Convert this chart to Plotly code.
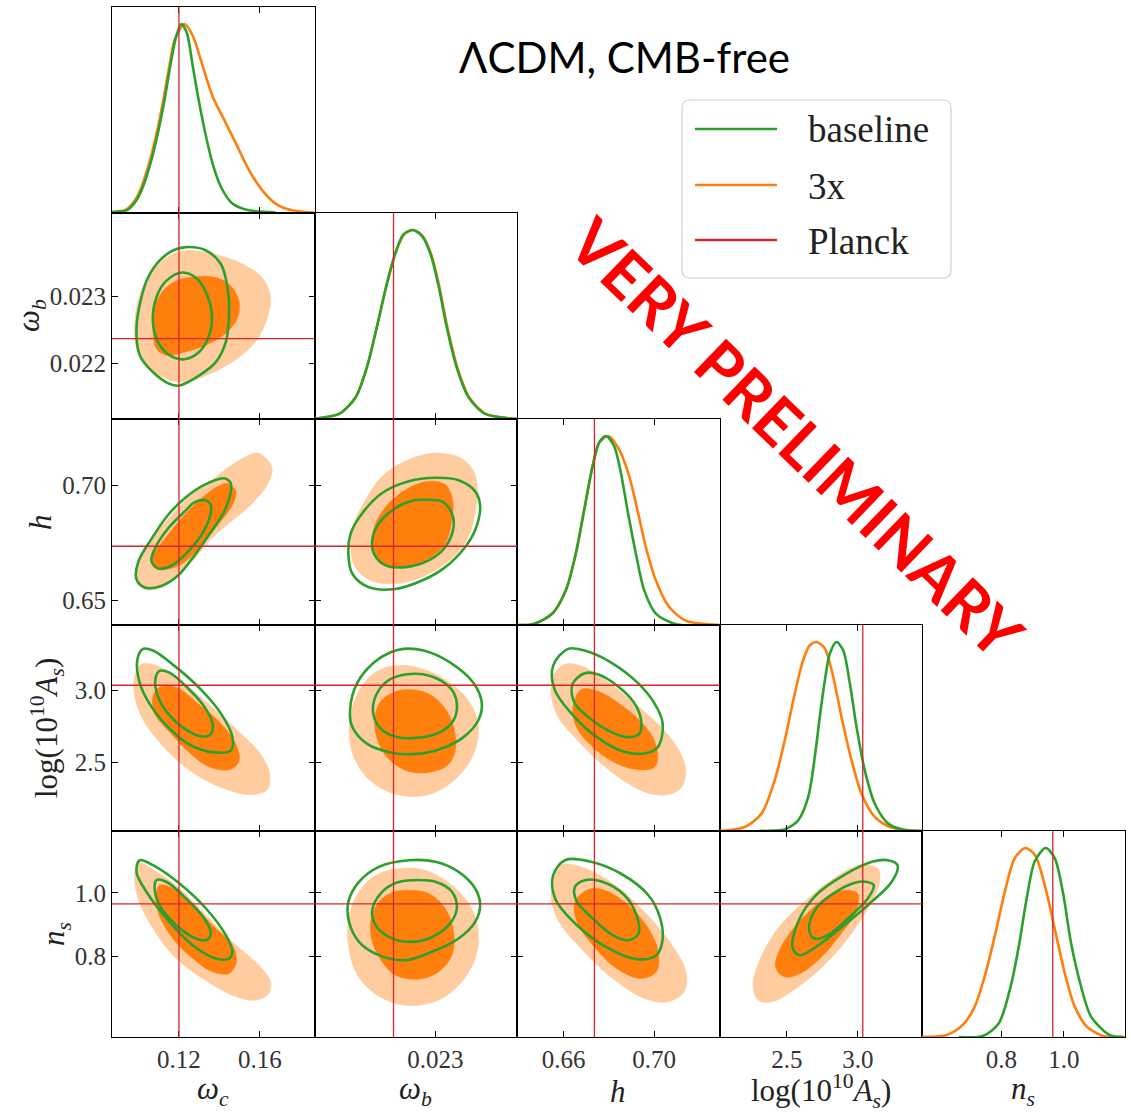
import plotly.graph_objects as go

W, H = 1131, 1117

# ---------------- data ----------------
PARAM_LABELS = ["<i>ω</i><sub><i>c</i></sub>", "<i>ω</i><sub><i>b</i></sub>", "<i>h</i>",
                "log(10<sup>10</sup><i>A</i><sub><i>s</i></sub>)", "<i>n</i><sub><i>s</i></sub>"]
PLANCK = [0.1200, 0.02237, 0.6736, 3.035, 0.9649]
RANGES = [[0.0869, 0.187], [0.02118, 0.02423], [0.6393, 0.7290], [2.026, 3.452], [0.545, 1.195]]
DIAG_RANGE = [0, 1.09]
XTICKS = [[0.12, 0.16], [0.023], [0.66, 0.70], [2.5, 3.0], [0.8, 1.0]]
XTICKTEXT = [["0.12", "0.16"], ["0.023"], ["0.66", "0.70"], ["2.5", "3.0"], ["0.8", "1.0"]]
YTICKS = [[], [0.022, 0.023], [0.65, 0.70], [2.5, 3.0], [0.8, 1.0]]
YTICKTEXT = [[], ["0.022", "0.023"], ["0.65", "0.70"], ["2.5", "3.0"], ["0.8", "1.0"]]
SERIES = ["baseline", "3x", "Planck"]
TITLE = "ΛCDM, CMB-free"
WATERMARK = "VERY PRELIMINARY"

# 1D marginals (normalised to peak 1)
wc_base_x = [0.0869, 0.0875, 0.0941, 0.0990, 0.1022, 0.1064, 0.1096, 0.1129, 0.1157, 0.1183, 0.1211, 0.1238, 0.1268, 0.1297, 0.1330, 0.1366, 0.1407, 0.1464, 0.1546, 0.1677]
wc_base_y = [0.003, 0.005, 0.014, 0.068, 0.139, 0.281, 0.423, 0.600, 0.778, 0.920, 1.000, 0.956, 0.778, 0.600, 0.423, 0.263, 0.139, 0.050, 0.014, 0.003]
wc_3x_x = [0.0869, 0.0872, 0.0936, 0.0985, 0.1017, 0.1059, 0.1091, 0.1124, 0.1153, 0.1180, 0.1227, 0.1268, 0.1317, 0.1366, 0.1423, 0.1481, 0.1546, 0.1611, 0.1677, 0.1759, 0.1857, 0.1870]
wc_3x_y = [0.004, 0.005, 0.016, 0.072, 0.145, 0.288, 0.430, 0.605, 0.780, 0.920, 1.000, 0.938, 0.778, 0.618, 0.494, 0.370, 0.227, 0.121, 0.050, 0.014, 0.003, 0.002]

wb_base_x = [0.02118, 0.02120, 0.02155, 0.02180, 0.02197, 0.02212, 0.02226, 0.02240, 0.02252, 0.02266, 0.02280, 0.02293, 0.02305, 0.02317, 0.02332, 0.02350, 0.02375, 0.02415, 0.02423]
wb_base_y = [0.0, 0.002, 0.027, 0.115, 0.275, 0.488, 0.701, 0.879, 0.977, 1.0, 0.968, 0.870, 0.701, 0.488, 0.275, 0.115, 0.027, 0.002, 0.0]
wb_3x_x = [0.02118, 0.02120, 0.02155, 0.02180, 0.02197, 0.02212, 0.02226, 0.02240, 0.02253, 0.02267, 0.02281, 0.02294, 0.02306, 0.02318, 0.02333, 0.02351, 0.02376, 0.02416, 0.02423]
wb_3x_y = [0.0, 0.002, 0.027, 0.115, 0.275, 0.488, 0.701, 0.879, 0.977, 1.0, 0.968, 0.870, 0.701, 0.488, 0.275, 0.115, 0.027, 0.002, 0.0]

h_base_x = [0.6393, 0.6463, 0.6551, 0.6610, 0.6654, 0.6691, 0.6728, 0.6757, 0.6787, 0.6823, 0.6853, 0.6882, 0.6919, 0.6956, 0.7007, 0.7096, 0.7290]
h_base_y = [0.0, 0.004, 0.062, 0.186, 0.381, 0.611, 0.841, 0.965, 1.0, 0.947, 0.806, 0.611, 0.381, 0.186, 0.062, 0.004, 0.0]
h_3x_x = [0.6393, 0.6463, 0.6551, 0.6610, 0.6654, 0.6691, 0.6728, 0.6757, 0.6798, 0.6845, 0.6890, 0.6926, 0.6963, 0.7007, 0.7066, 0.7140, 0.7257, 0.7290]
h_3x_y = [0.0, 0.004, 0.062, 0.186, 0.381, 0.611, 0.841, 0.965, 1.0, 0.929, 0.788, 0.611, 0.416, 0.239, 0.097, 0.023, 0.002, 0.0]

as_base_x = [2.299, 2.400, 2.486, 2.580, 2.651, 2.697, 2.732, 2.768, 2.803, 2.850, 2.897, 2.944, 2.991, 3.049, 3.120, 3.214, 3.331, 3.452]
as_base_y = [0.0, 0.002, 0.010, 0.056, 0.180, 0.392, 0.603, 0.798, 0.939, 1.0, 0.956, 0.780, 0.550, 0.321, 0.144, 0.039, 0.005, 0.0]
as_3x_x = [2.026, 2.063, 2.204, 2.322, 2.415, 2.486, 2.556, 2.615, 2.662, 2.709, 2.768, 2.827, 2.885, 2.956, 3.026, 3.120, 3.237, 3.425, 3.452]
as_3x_y = [0.0, 0.002, 0.021, 0.092, 0.269, 0.481, 0.727, 0.904, 0.983, 1.0, 0.965, 0.815, 0.603, 0.374, 0.197, 0.074, 0.018, 0.001, 0.0]

ns_base_x = [0.663, 0.740, 0.791, 0.830, 0.856, 0.881, 0.907, 0.942, 0.971, 0.997, 1.023, 1.055, 1.087, 1.138, 1.165, 1.195]
ns_base_y = [0.0, 0.005, 0.071, 0.270, 0.483, 0.733, 0.930, 1.0, 0.947, 0.768, 0.501, 0.270, 0.109, 0.020, 0.002, 0.0]
ns_3x_x = [0.545, 0.560, 0.6245, 0.676, 0.7145, 0.7465, 0.779, 0.8107, 0.843, 0.877, 0.907, 0.939, 0.971, 1.003, 1.035, 1.074, 1.125, 1.160, 1.195]
ns_3x_y = [0.0, 0.001, 0.011, 0.064, 0.162, 0.323, 0.537, 0.768, 0.947, 1.0, 0.964, 0.804, 0.572, 0.340, 0.162, 0.055, 0.005, 0.001, 0.0]

# 2D contours: o95/o68 = 3x filled (95%, 68%), g95/g68 = baseline lines
wc_wb_o95_x = [0.1235, 0.1366, 0.1497, 0.1611, 0.1653, 0.1636, 0.1579, 0.1464, 0.1334, 0.1235, 0.1137, 0.1039, 0.0990, 0.0982, 0.1006, 0.1071, 0.1153]
wc_wb_o95_y = [0.023675, 0.023625, 0.0235, 0.023275, 0.022975, 0.022675, 0.022325, 0.022025, 0.021825, 0.021725, 0.021775, 0.021975, 0.022225, 0.022625, 0.023025, 0.023375, 0.0236]
wc_wb_o68_x = [0.1252, 0.1366, 0.1448, 0.1497, 0.1489, 0.1432, 0.1334, 0.1235, 0.1137, 0.1088, 0.1071, 0.1080, 0.1120, 0.1186]
wc_wb_o68_y = [0.023275, 0.023285, 0.023175, 0.022925, 0.022675, 0.02245, 0.022275, 0.022175, 0.022125, 0.022225, 0.022525, 0.022825, 0.023075, 0.023225]
wc_wb_g95_x = [0.1235, 0.1334, 0.1407, 0.1440, 0.1448, 0.1432, 0.1383, 0.1301, 0.1202, 0.1153, 0.1071, 0.1006, 0.0990, 0.1014, 0.1047, 0.1104, 0.1170]
wc_wb_g95_y = [0.023725, 0.023675, 0.023475, 0.023125, 0.022775, 0.022325, 0.022025, 0.021825, 0.021675, 0.0217, 0.021875, 0.022125, 0.022525, 0.022975, 0.023275, 0.023525, 0.023675]
wc_wb_g68_x = [0.1219, 0.1292, 0.1341, 0.1363, 0.1350, 0.1301, 0.1227, 0.1153, 0.1096, 0.1071, 0.1088, 0.1137]
wc_wb_g68_y = [0.02335, 0.02325, 0.023, 0.022725, 0.022425, 0.022175, 0.022065, 0.022125, 0.022325, 0.022625, 0.022975, 0.023225]

wc_h_o95_x = [0.1587, 0.1644, 0.1661, 0.1636, 0.1554, 0.1456, 0.1358, 0.1276, 0.1194, 0.1113, 0.1031, 0.0990, 0.0998, 0.1064, 0.1162, 0.1260, 0.1374, 0.1489]
wc_h_o95_y = [0.7142, 0.7106, 0.7069, 0.7003, 0.6915, 0.6842, 0.6768, 0.6680, 0.6607, 0.6556, 0.6548, 0.6592, 0.6666, 0.6768, 0.6871, 0.6959, 0.7032, 0.7106]
wc_h_o68_x = [0.1440, 0.1481, 0.1464, 0.1391, 0.1309, 0.1227, 0.1145, 0.1080, 0.1071, 0.1129, 0.1211, 0.1309, 0.1391]
wc_h_o68_y = [0.7010, 0.6974, 0.6915, 0.6827, 0.6739, 0.6666, 0.6636, 0.6644, 0.6695, 0.6768, 0.6856, 0.6944, 0.6996]
wc_h_g95_x = [0.1423, 0.1456, 0.1453, 0.1423, 0.1358, 0.1276, 0.1194, 0.1113, 0.1031, 0.0990, 0.0998, 0.1064, 0.1145, 0.1227, 0.1325]
wc_h_g95_y = [0.7032, 0.7010, 0.6959, 0.6886, 0.6798, 0.6695, 0.6607, 0.6563, 0.6556, 0.6592, 0.6666, 0.6768, 0.6871, 0.6944, 0.7003]
wc_h_g68_x = [0.1325, 0.1358, 0.1350, 0.1309, 0.1243, 0.1162, 0.1096, 0.1064, 0.1080, 0.1145, 0.1227, 0.1276]
wc_h_g68_y = [0.6937, 0.6915, 0.6856, 0.6783, 0.6710, 0.6651, 0.6639, 0.6673, 0.6724, 0.6812, 0.6886, 0.6927]

wb_h_o95_x = [0.023099, 0.023399, 0.023575, 0.023635, 0.0236, 0.0235, 0.0233, 0.023, 0.02265, 0.02235, 0.022025, 0.02179, 0.021725, 0.021775, 0.02195, 0.022199, 0.02255, 0.02285]
wb_h_o95_y = [0.71407, 0.71174, 0.70629, 0.69824, 0.68799, 0.6777, 0.66965, 0.66306, 0.65866, 0.65721, 0.65866, 0.66451, 0.6733, 0.6836, 0.69384, 0.70409, 0.71069, 0.71363]
wb_h_o68_x = [0.0229, 0.02315, 0.02326, 0.023249, 0.02315, 0.0229, 0.02255, 0.022274, 0.02209, 0.022049, 0.022124, 0.022325, 0.0226]
wb_h_o68_y = [0.7019, 0.70044, 0.69384, 0.68505, 0.6748, 0.6682, 0.66451, 0.66526, 0.6704, 0.6777, 0.68505, 0.6931, 0.69899]
wb_h_g95_x = [0.023, 0.02335, 0.0236, 0.023675, 0.0236, 0.02345, 0.02315, 0.0228, 0.0224, 0.022, 0.02175, 0.02169, 0.021725, 0.0219, 0.022199, 0.0226]
wb_h_g95_y = [0.70339, 0.70233, 0.69749, 0.6909, 0.68065, 0.6733, 0.66451, 0.65866, 0.655, 0.65571, 0.6616, 0.6704, 0.6792, 0.68799, 0.69679, 0.70189]
wb_h_g68_x = [0.02285, 0.023099, 0.023249, 0.023275, 0.02315, 0.0229, 0.02255, 0.02225, 0.022075, 0.022049, 0.02215, 0.0224, 0.02265]
wb_h_g68_y = [0.69384, 0.6931, 0.68799, 0.6821, 0.6733, 0.66745, 0.66451, 0.66526, 0.6704, 0.67625, 0.6836, 0.69019, 0.6934]

wc_as_o95_x = [0.10144, 0.10959, 0.12108, 0.13414, 0.14887, 0.16036, 0.16493, 0.1636, 0.15545, 0.14396, 0.1309, 0.11941, 0.10959, 0.10144, 0.09781, 0.09815]
wc_as_o95_y = [3.181, 3.169, 3.063, 2.911, 2.723, 2.558, 2.418, 2.312, 2.277, 2.312, 2.394, 2.512, 2.653, 2.817, 2.981, 3.099]
wc_as_o68_x = [0.11126, 0.11941, 0.12923, 0.14072, 0.14809, 0.1497, 0.14563, 0.13581, 0.12599, 0.11617, 0.10797, 0.10714]
wc_as_o68_y = [3.028, 3.016, 2.911, 2.770, 2.629, 2.512, 2.453, 2.465, 2.558, 2.699, 2.840, 2.958]
wc_as_g95_x = [0.10223, 0.10714, 0.11779, 0.1309, 0.14072, 0.14642, 0.14563, 0.13743, 0.12599, 0.11617, 0.10635, 0.1006, 0.09948]
wc_as_g95_y = [3.287, 3.275, 3.169, 3.005, 2.840, 2.676, 2.582, 2.570, 2.618, 2.723, 2.887, 3.051, 3.216]
wc_as_g68_x = [0.11043, 0.11534, 0.12432, 0.13252, 0.1366, 0.13581, 0.1309, 0.1227, 0.1145, 0.10959, 0.10831]
wc_as_g68_y = [3.134, 3.122, 3.016, 2.887, 2.770, 2.699, 2.681, 2.735, 2.840, 2.958, 3.075]

wb_as_o95_x = [0.022475, 0.022825, 0.023225, 0.023525, 0.02365, 0.023575, 0.023324, 0.022975, 0.022625, 0.022274, 0.021974, 0.021775, 0.0217, 0.02175, 0.021925, 0.022175]
wb_as_o95_y = [3.174, 3.146, 3.051, 2.911, 2.746, 2.558, 2.394, 2.289, 2.265, 2.301, 2.394, 2.535, 2.699, 2.887, 3.051, 3.146]
wb_as_o68_x = [0.022574, 0.022874, 0.023125, 0.023275, 0.0233, 0.023174, 0.022874, 0.022574, 0.022325, 0.02215, 0.022085, 0.022175, 0.022375]
wb_as_o68_y = [3.005, 2.981, 2.887, 2.746, 2.582, 2.477, 2.430, 2.442, 2.512, 2.629, 2.794, 2.923, 2.986]
wb_as_g95_x = [0.022525, 0.022825, 0.023225, 0.023575, 0.0237, 0.02365, 0.023425, 0.023075, 0.022675, 0.022325, 0.021974, 0.02175, 0.021715, 0.021824, 0.022075, 0.022325]
wb_as_g95_y = [3.287, 3.275, 3.192, 3.051, 2.911, 2.794, 2.676, 2.594, 2.558, 2.570, 2.629, 2.746, 2.864, 3.051, 3.192, 3.263]
wb_as_g68_x = [0.022574, 0.022925, 0.023225, 0.023324, 0.023275, 0.023075, 0.022724, 0.022424, 0.022175, 0.022064, 0.0221, 0.022274]
wb_as_g68_y = [3.111, 3.099, 3.016, 2.911, 2.794, 2.711, 2.671, 2.676, 2.735, 2.840, 2.958, 3.063]

h_as_o95_x = [0.6604, 0.66777, 0.67806, 0.6913, 0.70309, 0.71117, 0.71413, 0.71192, 0.70605, 0.69722, 0.68689, 0.67514, 0.66481, 0.65748, 0.65453, 0.65528]
h_as_o95_y = [3.181, 3.169, 3.075, 2.911, 2.746, 2.582, 2.442, 2.324, 2.277, 2.289, 2.371, 2.512, 2.676, 2.817, 2.958, 3.099]
h_as_o68_x = [0.66777, 0.67514, 0.68543, 0.69426, 0.70013, 0.70163, 0.70013, 0.6913, 0.68102, 0.67219, 0.66556, 0.66411]
h_as_o68_y = [3.005, 2.993, 2.899, 2.782, 2.653, 2.535, 2.465, 2.453, 2.512, 2.618, 2.746, 2.887]
h_as_g95_x = [0.6619, 0.66923, 0.68102, 0.6928, 0.70013, 0.70384, 0.70163, 0.69572, 0.68543, 0.67364, 0.66336, 0.65598, 0.65528]
h_as_g95_y = [3.287, 3.275, 3.192, 3.051, 2.911, 2.770, 2.606, 2.563, 2.582, 2.688, 2.840, 3.005, 3.169]
h_as_g68_x = [0.66923, 0.67514, 0.68397, 0.6913, 0.69426, 0.69351, 0.68839, 0.67956, 0.67073, 0.66481, 0.6638]
h_as_g68_y = [3.118, 3.111, 3.028, 2.911, 2.794, 2.699, 2.676, 2.723, 2.817, 2.911, 3.040]

wc_ns_o95_x = [0.1006, 0.1088, 0.12025, 0.13336, 0.14642, 0.15953, 0.16527, 0.16444, 0.1579, 0.14642, 0.13169, 0.11863, 0.10714, 0.09977, 0.09815]
wc_ns_o95_y = [1.0924, 1.0662, 1.0136, 0.9293, 0.8454, 0.7716, 0.7192, 0.6823, 0.6612, 0.677, 0.7297, 0.7927, 0.8874, 0.982, 1.0555]
wc_ns_o68_x = [0.11043, 0.11696, 0.12678, 0.13827, 0.14642, 0.14838, 0.1448, 0.1366, 0.12678, 0.11696, 0.10959, 0.1088]
wc_ns_o68_y = [1.024, 1.0136, 0.9609, 0.8874, 0.8347, 0.7823, 0.7454, 0.7508, 0.7927, 0.8558, 0.9401, 0.9978]
wc_ns_g95_x = [0.1006, 0.10714, 0.12025, 0.13336, 0.14317, 0.14642, 0.1448, 0.13827, 0.12678, 0.11534, 0.1039, 0.09899]
wc_ns_g95_y = [1.1028, 1.0871, 1.0293, 0.9505, 0.8662, 0.8139, 0.7927, 0.7927, 0.8347, 0.9085, 1.0032, 1.0662]
wc_ns_g68_x = [0.1088, 0.11371, 0.12354, 0.13252, 0.13581, 0.13336, 0.12845, 0.11863, 0.11043, 0.10797]
wc_ns_g68_y = [1.0397, 1.0347, 0.982, 0.9189, 0.8716, 0.8505, 0.8558, 0.8978, 0.9609, 1.0136]

wb_ns_o95_x = [0.02245, 0.02285, 0.023249, 0.023549, 0.02365, 0.0236, 0.023399, 0.023099, 0.02275, 0.0224, 0.022049, 0.0218, 0.02169, 0.0217, 0.02185, 0.0221]
wb_ns_o95_y = [1.0767, 1.0713, 1.024, 0.9505, 0.8662, 0.7927, 0.7192, 0.6666, 0.6454, 0.6508, 0.6877, 0.7508, 0.8347, 0.9293, 1.0032, 1.0555]
wb_ns_o68_x = [0.02255, 0.0229, 0.02315, 0.023275, 0.023249, 0.02305, 0.02275, 0.0224, 0.022199, 0.022049, 0.022025, 0.02215, 0.02235]
wb_ns_o68_y = [1.0082, 0.9978, 0.9505, 0.877, 0.8032, 0.7508, 0.7275, 0.74, 0.7823, 0.8454, 0.9085, 0.9716, 1.0009]
wb_ns_g95_x = [0.0226, 0.023, 0.02335, 0.0236, 0.023675, 0.0236, 0.02335, 0.02295, 0.02255, 0.02215, 0.02185, 0.0217, 0.02169, 0.02185, 0.02215]
wb_ns_g95_y = [1.1028, 1.0978, 1.0662, 1.0136, 0.9609, 0.9085, 0.8558, 0.8139, 0.7874, 0.8032, 0.8454, 0.9085, 0.9716, 1.0347, 1.082]
wb_ns_g68_x = [0.02265, 0.023, 0.023249, 0.023324, 0.0232, 0.0229, 0.0226, 0.0223, 0.0221, 0.022049, 0.022199, 0.022424]
wb_ns_g68_y = [1.0397, 1.0347, 1.0032, 0.9505, 0.8978, 0.8558, 0.8454, 0.8612, 0.8978, 0.9451, 1.0032, 1.0325]

h_ns_o95_x = [0.65885, 0.66764, 0.68168, 0.69576, 0.70804, 0.71417, 0.71333, 0.70627, 0.69576, 0.68168, 0.66764, 0.65709, 0.65444]
h_ns_o95_y = [1.0871, 1.082, 1.0293, 0.9401, 0.8347, 0.7508, 0.6877, 0.6562, 0.6666, 0.7297, 0.8243, 0.9189, 1.0032]
h_ns_o68_x = [0.67113, 0.67815, 0.6887, 0.69749, 0.7019, 0.70102, 0.694, 0.68344, 0.67289, 0.66587, 0.66499]
h_ns_o68_y = [1.0114, 1.0082, 0.9609, 0.8874, 0.8139, 0.7508, 0.7297, 0.7612, 0.8347, 0.9085, 0.9716]
h_ns_g95_x = [0.66057, 0.67113, 0.68521, 0.69749, 0.70278, 0.70366, 0.70102, 0.69223, 0.67991, 0.66587, 0.6562, 0.65532]
h_ns_g95_y = [1.1028, 1.0997, 1.0609, 0.9924, 0.9189, 0.8454, 0.8032, 0.7906, 0.8243, 0.8978, 0.982, 1.0555]
h_ns_g68_x = [0.66936, 0.67642, 0.68693, 0.69223, 0.69311, 0.6887, 0.68168, 0.67289, 0.66552, 0.66499]
h_ns_g68_y = [1.0397, 1.0366, 0.9924, 0.9293, 0.8716, 0.8505, 0.8662, 0.9189, 0.9767, 1.0189]

as_ns_o95_x = [3.014, 3.140, 3.154, 3.070, 2.930, 2.762, 2.565, 2.397, 2.299, 2.263, 2.313, 2.454, 2.650, 2.846]
as_ns_o95_y = [1.0871, 1.0767, 1.0347, 0.9505, 0.8558, 0.7716, 0.6981, 0.6562, 0.6612, 0.7085, 0.7927, 0.8978, 0.982, 1.0505]
as_ns_o68_x = [2.902, 3.0, 2.986, 2.874, 2.734, 2.594, 2.482, 2.420, 2.454, 2.565, 2.706, 2.818]
as_ns_o68_y = [1.0082, 0.9978, 0.9401, 0.8662, 0.7927, 0.7454, 0.735, 0.7665, 0.8243, 0.8978, 0.9609, 0.9978]
as_ns_g95_x = [3.211, 3.280, 3.239, 3.070, 2.874, 2.706, 2.594, 2.543, 2.580, 2.706, 2.902, 3.099]
as_ns_g95_y = [1.1028, 1.0871, 1.0347, 0.9609, 0.8874, 0.8297, 0.8032, 0.8243, 0.9085, 0.9924, 1.0555, 1.0978]
as_ns_g68_x = [3.056, 3.112, 3.070, 2.930, 2.790, 2.692, 2.656, 2.706, 2.846, 2.986]
as_ns_g68_y = [1.0347, 1.024, 0.982, 0.9189, 0.8662, 0.8558, 0.8874, 0.9505, 1.0032, 1.0325]

# --------------- assembling ---------------
MARGINALS = {
    0: ((wc_base_x, wc_base_y), (wc_3x_x, wc_3x_y)),
    1: ((wb_base_x, wb_base_y), (wb_3x_x, wb_3x_y)),
    2: ((h_base_x, h_base_y), (h_3x_x, h_3x_y)),
    3: ((as_base_x, as_base_y), (as_3x_x, as_3x_y)),
    4: ((ns_base_x, ns_base_y), (ns_3x_x, ns_3x_y)),
}
CONTOURS = {
    (1, 0): (wc_wb_o95_x, wc_wb_o95_y, wc_wb_o68_x, wc_wb_o68_y, wc_wb_g95_x, wc_wb_g95_y, wc_wb_g68_x, wc_wb_g68_y),
    (2, 0): (wc_h_o95_x, wc_h_o95_y, wc_h_o68_x, wc_h_o68_y, wc_h_g95_x, wc_h_g95_y, wc_h_g68_x, wc_h_g68_y),
    (2, 1): (wb_h_o95_x, wb_h_o95_y, wb_h_o68_x, wb_h_o68_y, wb_h_g95_x, wb_h_g95_y, wb_h_g68_x, wb_h_g68_y),
    (3, 0): (wc_as_o95_x, wc_as_o95_y, wc_as_o68_x, wc_as_o68_y, wc_as_g95_x, wc_as_g95_y, wc_as_g68_x, wc_as_g68_y),
    (3, 1): (wb_as_o95_x, wb_as_o95_y, wb_as_o68_x, wb_as_o68_y, wb_as_g95_x, wb_as_g95_y, wb_as_g68_x, wb_as_g68_y),
    (3, 2): (h_as_o95_x, h_as_o95_y, h_as_o68_x, h_as_o68_y, h_as_g95_x, h_as_g95_y, h_as_g68_x, h_as_g68_y),
    (4, 0): (wc_ns_o95_x, wc_ns_o95_y, wc_ns_o68_x, wc_ns_o68_y, wc_ns_g95_x, wc_ns_g95_y, wc_ns_g68_x, wc_ns_g68_y),
    (4, 1): (wb_ns_o95_x, wb_ns_o95_y, wb_ns_o68_x, wb_ns_o68_y, wb_ns_g95_x, wb_ns_g95_y, wb_ns_g68_x, wb_ns_g68_y),
    (4, 2): (h_ns_o95_x, h_ns_o95_y, h_ns_o68_x, h_ns_o68_y, h_ns_g95_x, h_ns_g95_y, h_ns_g68_x, h_ns_g68_y),
    (4, 3): (as_ns_o95_x, as_ns_o95_y, as_ns_o68_x, as_ns_o68_y, as_ns_g95_x, as_ns_g95_y, as_ns_g68_x, as_ns_g68_y),
}

GREEN = "#2ca02c"
ORANGE = "#ff7f0e"
LIGHT_ORANGE = "#ffcc9f"
RED = "#d62728"
SERIF = "Liberation Serif"
TICKFONT = dict(family=SERIF, size=25, color="#333333")
LABELFONT = dict(family=SERIF, size=31, color="#222222")

LEFT, TOP = 112.0, 7.0
PW, PH = 202.5, 206.0


def px(X):
    return X / W


def py(Y):
    return 1 - Y / H


def closed(a):
    return list(a) + [a[0]]


fig = go.Figure()
layout = dict(width=W, height=H, margin=dict(l=0, r=0, t=0, b=0),
              paper_bgcolor="white", plot_bgcolor="white", showlegend=False)
shapes = []
annotations = []

k = 0
for i in range(5):
    for j in range(i + 1):
        k += 1
        xs = "" if k == 1 else str(k)
        xname, yname = "x" + xs, "y" + xs
        X0, X1 = LEFT + PW * j, LEFT + PW * (j + 1)
        Y0, Y1 = TOP + PH * i, TOP + PH * (i + 1)
        common = dict(showline=True, linecolor="black", linewidth=1, mirror="ticks",
                      ticks="inside", ticklen=6, tickwidth=1, tickcolor="black",
                      showgrid=False, zeroline=False, tickfont=TICKFONT)
        layout["xaxis" + xs] = dict(domain=[px(X0), px(X1)], anchor=yname, range=RANGES[j],
                                    tickmode="array", tickvals=XTICKS[j], ticktext=XTICKTEXT[j],
                                    showticklabels=(i == 4), **common)
        if i == j:
            layout["yaxis" + xs] = dict(domain=[py(Y1), py(Y0)], anchor=xname, range=DIAG_RANGE,
                                        tickmode="array", tickvals=[], showticklabels=False, **common)
            (bx, by), (ox, oy) = MARGINALS[i]
            fig.add_trace(go.Scatter(x=ox, y=oy, mode="lines", line=dict(color=ORANGE, width=2.6, shape="spline", smoothing=0.8),
                                     xaxis=xname, yaxis=yname, hoverinfo="skip"))
            fig.add_trace(go.Scatter(x=bx, y=by, mode="lines", line=dict(color=GREEN, width=2.6, shape="spline", smoothing=0.8),
                                     xaxis=xname, yaxis=yname, hoverinfo="skip"))
            shapes.append(dict(type="line", xref=xname, yref=yname + " domain", x0=PLANCK[j], x1=PLANCK[j],
                               y0=0, y1=1, line=dict(color=RED, width=1.3)))
        else:
            layout["yaxis" + xs] = dict(domain=[py(Y1), py(Y0)], anchor=xname, range=RANGES[i],
                                        tickmode="array", tickvals=YTICKS[i], ticktext=YTICKTEXT[i],
                                        showticklabels=(j == 0), **common)
            o95x, o95y, o68x, o68y, g95x, g95y, g68x, g68y = CONTOURS[(i, j)]
            fig.add_trace(go.Scatter(x=closed(o95x), y=closed(o95y), mode="lines", fill="toself",
                                     fillcolor=LIGHT_ORANGE, line=dict(color=LIGHT_ORANGE, width=0.5, shape="spline"),
                                     xaxis=xname, yaxis=yname, hoverinfo="skip"))
            fig.add_trace(go.Scatter(x=closed(o68x), y=closed(o68y), mode="lines", fill="toself",
                                     fillcolor=ORANGE, line=dict(color=ORANGE, width=0.5, shape="spline"),
                                     xaxis=xname, yaxis=yname, hoverinfo="skip"))
            fig.add_trace(go.Scatter(x=closed(g95x), y=closed(g95y), mode="lines",
                                     line=dict(color=GREEN, width=2.6, shape="spline"),
                                     xaxis=xname, yaxis=yname, hoverinfo="skip"))
            fig.add_trace(go.Scatter(x=closed(g68x), y=closed(g68y), mode="lines",
                                     line=dict(color=GREEN, width=2.6, shape="spline"),
                                     xaxis=xname, yaxis=yname, hoverinfo="skip"))
            shapes.append(dict(type="line", xref=xname, yref=yname + " domain", x0=PLANCK[j], x1=PLANCK[j],
                               y0=0, y1=1, line=dict(color=RED, width=1.3)))
            shapes.append(dict(type="line", xref=xname + " domain", yref=yname, x0=0, x1=1,
                               y0=PLANCK[i], y1=PLANCK[i], line=dict(color=RED, width=1.3)))

# axis titles
for j in range(5):
    annotations.append(dict(text=PARAM_LABELS[j], xref="paper", yref="paper",
                            x=px(LEFT + PW * (j + 0.5)), y=py(1091), xanchor="center", yanchor="middle",
                            showarrow=False, font=LABELFONT))
YLAB_X = [0, 31, 40, 47, 56]
for i in range(1, 5):
    annotations.append(dict(text=PARAM_LABELS[i], xref="paper", yref="paper",
                            x=px(YLAB_X[i]), y=py(TOP + PH * (i + 0.5)), xanchor="center", yanchor="middle",
                            textangle=-90, showarrow=False, font=LABELFONT))

# title and watermark
annotations.append(dict(text=TITLE, xref="paper", yref="paper", x=px(624), y=py(57),
                        xanchor="center", yanchor="middle", showarrow=False,
                        font=dict(family="Lato", size=42, color="black")))
annotations.append(dict(text="<b>" + WATERMARK + "</b>", xref="paper", yref="paper", x=px(797), y=py(437),
                        xanchor="center", yanchor="middle", showarrow=False, textangle=44,
                        font=dict(family="Lato", size=64, color="#ff0000")))

# legend (drawn manually)
LX0, LX1, LY0, LY1, R = 682, 951, 100, 278, 8
rx, ry = R / W, R / H
a0, a1, b0, b1 = px(LX0), px(LX1), py(LY1), py(LY0)
path = (f"M{a0 + rx},{b0} L{a1 - rx},{b0} Q{a1},{b0} {a1},{b0 + ry} L{a1},{b1 - ry} "
        f"Q{a1},{b1} {a1 - rx},{b1} L{a0 + rx},{b1} Q{a0},{b1} {a0},{b1 - ry} L{a0},{b0 + ry} "
        f"Q{a0},{b0} {a0 + rx},{b0} Z")
shapes.append(dict(type="path", xref="paper", yref="paper", path=path, fillcolor="white",
                   line=dict(color="#d0d0d0", width=1.2), layer="above"))
LEG_COLORS = [GREEN, ORANGE, RED]
LEG_Y = [129, 185, 240]
for name, col, ly in zip(SERIES, LEG_COLORS, LEG_Y):
    shapes.append(dict(type="line", xref="paper", yref="paper", x0=px(695), x1=px(777),
                       y0=py(ly), y1=py(ly), line=dict(color=col, width=2.6), layer="above"))
    annotations.append(dict(text=name, xref="paper", yref="paper", x=px(806), y=py(ly + 1),
                            xanchor="left", yanchor="middle", showarrow=False,
                            font=dict(family=SERIF, size=37, color="#222222")))

layout["shapes"] = shapes
layout["annotations"] = annotations
fig.update_layout(**layout)
fig.write_html("out.html")
